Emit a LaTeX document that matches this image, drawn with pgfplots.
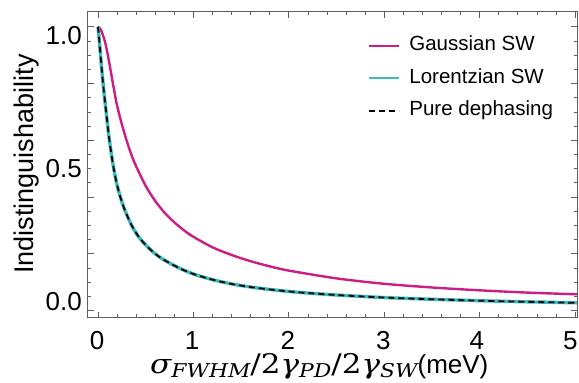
\documentclass[border=0pt]{standalone}
\usepackage{graphicx}
\usepackage{pgfplots}
\pgfplotsset{compat=1.18}
\usepackage{fontspec}
\setmainfont{Liberation Sans}
\newfontfamily\serifit{DejaVu Serif}
\definecolor{mag}{RGB}{202,30,132}
\definecolor{cyn}{RGB}{60,185,190}
\definecolor{framec}{RGB}{95,95,95}
\newcommand\sub[1]{\raisebox{-4pt}{\fontsize{19}{19}\selectfont\serifit\itshape #1}}
\newcommand\mm[1]{{\fontsize{27}{27}\selectfont\serifit #1}}
\begin{document}
\begin{tikzpicture}
\begin{axis}[
  at={(88pt,65pt)}, anchor=south west,
  scale only axis, width=489pt, height=306pt,
  xmin=-0.105, xmax=5.02, ymin=-0.026, ymax=1.052,
  axis line style={framec, line width=1pt},
  xtick={0,1,...,5}, minor x tick num=4,
  ytick={0,0.2,...,1}, minor y tick num=3,
  xticklabels={}, yticklabels={},
  extra x ticks={-0.01,0.985,1.99,2.99,3.97,4.95},
  extra x tick labels={0,1,2,3,4,5},
  extra y ticks={0.031,0.502,0.970},
  extra y tick labels={0.0,0.5,1.0},
  extra tick style={major tick length=0pt},
  tick style={framec, line width=0.8pt},
  major tick length=6pt, minor tick length=3.5pt,
  tick align=inside,
  ticklabel style={font=\fontsize{26}{26}\selectfont, inner sep=0pt},
  xticklabel style={yshift=-13pt},
  yticklabel style={xshift=-6pt},
  legend cell align=left,
  legend style={draw=none, fill=none, at={(0.573,0.921)}, anchor=north west,
    inner sep=0pt, row sep=13.5pt, column sep=9pt,
    font=\fontsize{20.5}{20.5}\selectfont,
    nodes={inner sep=0pt, text height=14.5pt, text depth=4.5pt}},
  legend image code/.code={\draw[#1, line width=2pt] (0pt,0pt) -- (30pt,0pt);},
]
\addplot[mag, line width=2.4pt, smooth, tension=0.5] coordinates {
(0,1.0) (0.025,0.992) (0.05,0.972) (0.075,0.945) (0.1,0.905) (0.125,0.86)
(0.15,0.812) (0.175,0.765) (0.2,0.722) (0.25,0.656) (0.3,0.599) (0.35,0.549)
(0.4,0.508) (0.5,0.439) (0.6,0.386) (0.7,0.344) (0.8,0.311) (0.9,0.283)
(1.0,0.260) (1.2,0.223) (1.4,0.196) (1.6,0.174) (1.8,0.156) (2.0,0.141)
(2.5,0.1135) (3.0,0.0945) (3.5,0.0815) (4.0,0.0715) (4.5,0.0635) (5.02,0.0575)
};
\addlegendentry{Gaussian SW}
\addplot[cyn, line width=3.4pt, smooth, tension=0.5] coordinates {
(0,1.0) (0.01,0.965) (0.02,0.925) (0.035,0.865) (0.05,0.81) (0.07,0.745)
(0.09,0.685) (0.11,0.625) (0.13,0.575) (0.157,0.515) (0.19,0.457) (0.227,0.408)
(0.28,0.355) (0.35,0.302) (0.42,0.263) (0.5,0.231) (0.6,0.200) (0.7,0.177)
(0.85,0.150) (1.0,0.129) (1.2,0.109) (1.4,0.094) (1.6,0.083) (1.8,0.0745)
(2.1,0.0645) (2.5,0.0550) (3.0,0.0460) (3.5,0.0400) (4.0,0.0350) (4.5,0.0310) (5.02,0.0275)
};
\addlegendentry{Lorentzian SW}
\addplot[black, line width=1.8pt, dash pattern=on 6pt off 4pt, smooth, tension=0.5] coordinates {
(0,1.0) (0.01,0.965) (0.02,0.925) (0.035,0.865) (0.05,0.81) (0.07,0.745)
(0.09,0.685) (0.11,0.625) (0.13,0.575) (0.157,0.515) (0.19,0.457) (0.227,0.408)
(0.28,0.355) (0.35,0.302) (0.42,0.263) (0.5,0.231) (0.6,0.200) (0.7,0.177)
(0.85,0.150) (1.0,0.129) (1.2,0.109) (1.4,0.094) (1.6,0.083) (1.8,0.0745)
(2.1,0.0645) (2.5,0.0550) (3.0,0.0460) (3.5,0.0400) (4.0,0.0350) (4.5,0.0310) (5.02,0.0275)
};
\addlegendentry{Pure dephasing}
\end{axis}
\node[rotate=90, anchor=base, font=\fontsize{27}{27}\selectfont] at (33pt,219pt) {Indistinguishability};
\node[anchor=base west, inner sep=0pt] at (150pt,9pt) {\scalebox{1.15}[1]{\mm{\itshape σ}\sub{FWHM}\mm{/2\itshape γ}\sub{PD}\mm{/2\itshape γ}\sub{SW}}{\fontsize{26}{26}\selectfont(meV)}};
\pgfresetboundingbox
\useasboundingbox (0,0) rectangle (579pt,383pt);
\end{tikzpicture}
\end{document}
